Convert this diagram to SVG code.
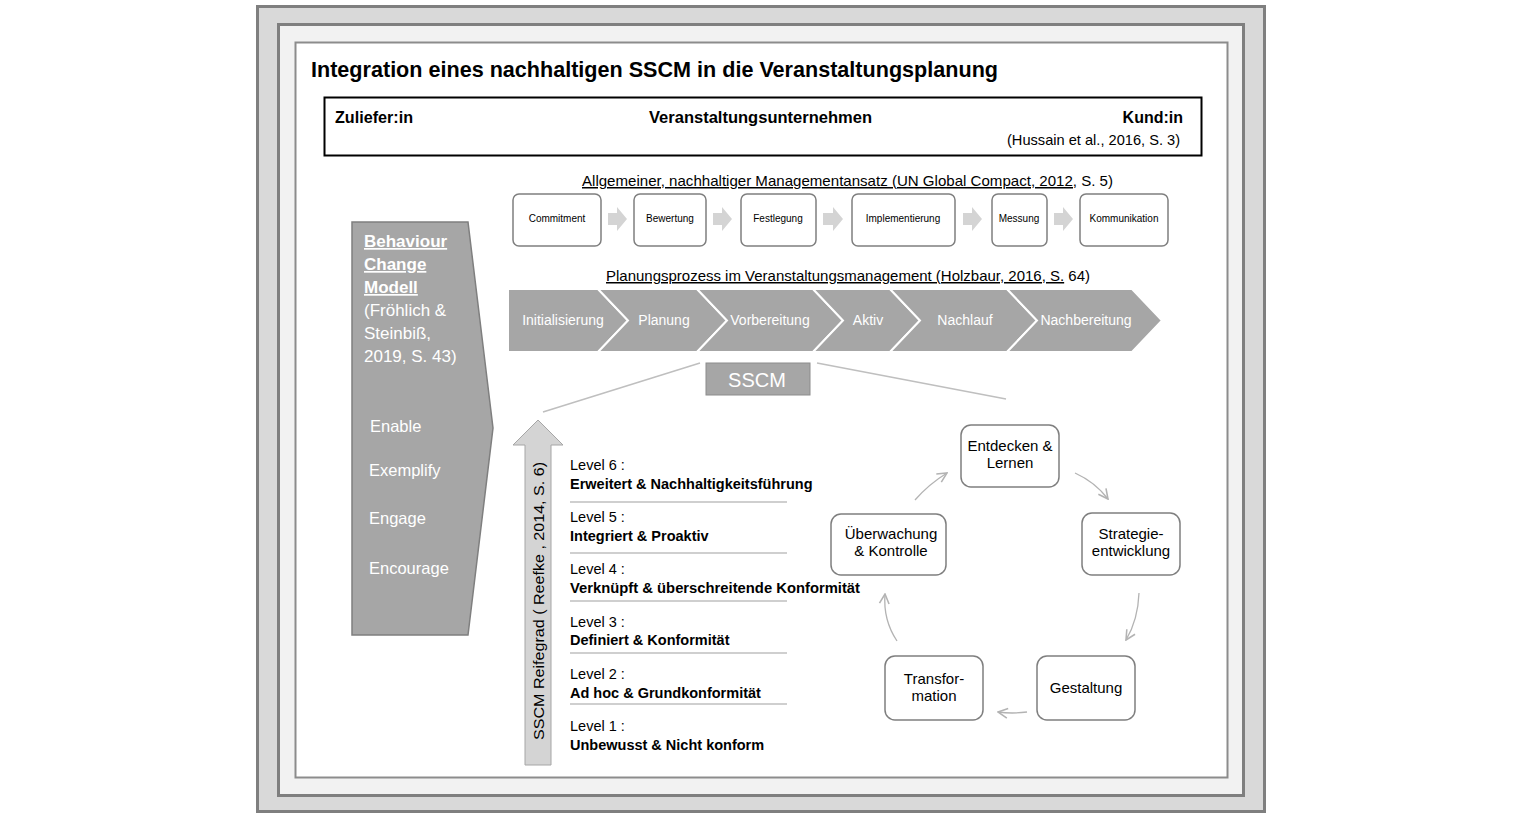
<svg xmlns="http://www.w3.org/2000/svg" width="1518" height="820" viewBox="0 0 1518 820">
<style>
text{font-family:"Liberation Sans",Arial,sans-serif;fill:#000}
.b{font-weight:bold}
.w{fill:#fff}
.box{fill:#fff;stroke:#7f7f7f;stroke-width:1.5}
.bx{font-size:10px;text-anchor:middle}
.chev{fill:#a6a6a6;stroke:#fff;stroke-width:2}
.ct{font-size:14px;fill:#fff;text-anchor:middle}
.barr{fill:#d4d4d4}
.lvl{font-size:14.5px}
.sep{stroke:#bfbfbf;stroke-width:1.5}
.cyc{fill:#fff;stroke:#7f7f7f;stroke-width:1.5}
.cyt{font-size:15px;text-anchor:middle}
.carr{fill:none;stroke:#b3b3b3;stroke-width:1.3;marker-end:url(#op)}
.u{text-decoration:underline}
</style>
<defs>
<marker id="op" viewBox="0 0 10 10" refX="9" refY="5" markerWidth="12" markerHeight="12" markerUnits="userSpaceOnUse" orient="auto">
<path d="M1,1 L9,5 L1,9" fill="none" stroke="#b3b3b3" stroke-width="1.3"/>
</marker>
</defs>

<g id="frame">
<rect x="257.5" y="6.5" width="1007" height="805" fill="#d9d9d9" stroke="#7f7f7f" stroke-width="3"/>
<rect x="278.5" y="24.5" width="965" height="771" fill="#f2f2f2" stroke="#7f7f7f" stroke-width="3"/>
<rect x="295.5" y="42.5" width="932" height="735" fill="#fff" stroke="#8c8c8c" stroke-width="2"/>
</g>

<text id="title" x="311" y="77" class="b" font-size="22" textLength="687" lengthAdjust="spacingAndGlyphs">Integration eines nachhaltigen SSCM in die Veranstaltungsplanung</text>

<g id="header">
<rect x="324.5" y="97.5" width="877" height="58" fill="#fff" stroke="#000" stroke-width="2"/>
<text x="335" y="123" class="b" font-size="16" textLength="78" lengthAdjust="spacingAndGlyphs">Zuliefer:in</text>
<text x="649" y="123" class="b" font-size="16" textLength="223" lengthAdjust="spacingAndGlyphs">Veranstaltungsunternehmen</text>
<text x="1183" y="123" class="b" font-size="16" text-anchor="end">Kund:in</text>
<text x="1007" y="145" font-size="14.5" textLength="173" lengthAdjust="spacingAndGlyphs">(Hussain et al., 2016, S. 3)</text>
</g>

<text id="mgmt-title" x="582" y="186" font-size="15" textLength="531" lengthAdjust="spacingAndGlyphs"><tspan class="u">Allgemeiner, nachhaltiger Managementansatz (UN Global Compact, 2012,</tspan> S. 5)</text>

<g id="mgmt-arrows">
<path class="barr" d="M608,213 L617,213 L617,207 L627,219 L617,231 L617,225 L608,225 Z"/>
<path class="barr" d="M713,213 L722,213 L722,207 L732,219 L722,231 L722,225 L713,225 Z"/>
<path class="barr" d="M823,213 L833,213 L833,207 L843,219 L833,231 L833,225 L823,225 Z"/>
<path class="barr" d="M963,213 L972,213 L972,207 L982,219 L972,231 L972,225 L963,225 Z"/>
<path class="barr" d="M1054,213 L1063,213 L1063,207 L1073,219 L1063,231 L1063,225 L1054,225 Z"/>
</g>
<g id="n-commitment"><rect class="box" x="513" y="194" width="88" height="52" rx="6"/><text class="bx" x="557" y="222">Commitment</text></g>
<g id="n-bewertung"><rect class="box" x="634" y="194" width="72" height="52" rx="6"/><text class="bx" x="670" y="222">Bewertung</text></g>
<g id="n-festlegung"><rect class="box" x="741" y="194" width="75" height="52" rx="6"/><text class="bx" x="778" y="222">Festlegung</text></g>
<g id="n-implementierung"><rect class="box" x="852" y="194" width="103" height="52" rx="6"/><text class="bx" x="903" y="222">Implementierung</text></g>
<g id="n-messung"><rect class="box" x="992" y="194" width="55" height="52" rx="6"/><text class="bx" x="1019" y="222">Messung</text></g>
<g id="n-kommunikation"><rect class="box" x="1080" y="194" width="88" height="52" rx="6"/><text class="bx" x="1124" y="222">Kommunikation</text></g>

<text id="plan-title" x="606" y="281" font-size="15" textLength="484" lengthAdjust="spacingAndGlyphs"><tspan class="u">Planungsprozess im Veranstaltungsmanagement (Holzbaur, 2016, S.</tspan> 64)</text>

<g id="p-init"><path class="chev" d="M508,289 L598,289 L628,320.5 L598,352 L508,352 Z"/><text class="ct" x="563" y="325">Initialisierung</text></g>
<g id="p-planung"><path class="chev" d="M598,289 L697,289 L727,320.5 L697,352 L598,352 L628,320.5 Z"/><text class="ct" x="664" y="325">Planung</text></g>
<g id="p-vorb"><path class="chev" d="M697,289 L813,289 L843,320.5 L813,352 L697,352 L727,320.5 Z"/><text class="ct" x="770" y="325">Vorbereitung</text></g>
<g id="p-aktiv"><path class="chev" d="M813,289 L890,289 L920,320.5 L890,352 L813,352 L843,320.5 Z"/><text class="ct" x="868" y="325">Aktiv</text></g>
<g id="p-nachlauf"><path class="chev" d="M890,289 L1007,289 L1037,320.5 L1007,352 L890,352 L920,320.5 Z"/><text class="ct" x="965" y="325">Nachlauf</text></g>
<g id="p-nachb"><path class="chev" d="M1007,289 L1132,289 L1162,320.5 L1132,352 L1007,352 L1037,320.5 Z"/><text class="ct" x="1086" y="325">Nachbereitung</text></g>

<g id="behaviour">
<path d="M352,222 L468,222 L493,428 L468,635 L352,635 Z" fill="#a6a6a6" stroke="#7f7f7f" stroke-width="1.5"/>
<text class="w b" font-size="17"><tspan class="u w" x="364" y="247">Behaviour</tspan><tspan class="u w" x="364" y="270">Change</tspan><tspan class="u w" x="364" y="293">Modell</tspan></text>
<text class="w" font-size="17"><tspan x="364" y="316">(Fröhlich &amp;</tspan><tspan x="364" y="339">Steinbiß,</tspan><tspan x="364" y="362">2019, S. 43)</tspan></text>
<text class="w" font-size="16.5" x="370" y="432">Enable</text>
<text class="w" font-size="16.5" x="369" y="476">Exemplify</text>
<text class="w" font-size="16.5" x="369" y="524">Engage</text>
<text class="w" font-size="16.5" x="369" y="574">Encourage</text>
</g>

<g id="sscm">
<line x1="543" y1="412" x2="700" y2="363" stroke="#bfbfbf" stroke-width="1.5"/>
<line x1="817" y1="363" x2="1006" y2="399" stroke="#bfbfbf" stroke-width="1.5"/>
<rect x="706" y="363" width="104" height="32" fill="#a6a6a6" stroke="#8c8c8c" stroke-width="1"/>
<text x="757" y="387" font-size="20" class="w" text-anchor="middle">SSCM</text>
</g>

<g id="maturity">
<path d="M525,765 L525,445 L513,445 L538,420 L563,445 L551,445 L551,765 Z" fill="#d4d4d4" stroke="#a6a6a6" stroke-width="1"/>
<text transform="translate(544,601) rotate(-90)" font-size="15.5" text-anchor="middle" textLength="278" lengthAdjust="spacingAndGlyphs">SSCM Reifegrad ( Reefke , 2014, S. 6)</text>
<text class="lvl" x="570" y="470">Level 6 :</text>
<text class="lvl b" x="570" y="489">Erweitert &amp; Nachhaltigkeitsführung</text>
<line class="sep" x1="570" y1="502" x2="787" y2="502"/>
<text class="lvl" x="570" y="522">Level 5 :</text>
<text class="lvl b" x="570" y="541">Integriert &amp; Proaktiv</text>
<line class="sep" x1="570" y1="553" x2="787" y2="553"/>
<text class="lvl" x="570" y="574">Level 4 :</text>
<text class="lvl b" x="570" y="593" textLength="290" lengthAdjust="spacingAndGlyphs">Verknüpft &amp; überschreitende Konformität</text>
<line class="sep" x1="570" y1="601" x2="787" y2="601"/>
<text class="lvl" x="570" y="627">Level 3 :</text>
<text class="lvl b" x="570" y="645">Definiert &amp; Konformität</text>
<line class="sep" x1="570" y1="653" x2="787" y2="653"/>
<text class="lvl" x="570" y="679">Level 2 :</text>
<text class="lvl b" x="570" y="698">Ad hoc &amp; Grundkonformität</text>
<line class="sep" x1="570" y1="704" x2="787" y2="704"/>
<text class="lvl" x="570" y="731">Level 1 :</text>
<text class="lvl b" x="570" y="750">Unbewusst &amp; Nicht konform</text>
</g>

<g id="c-entdecken"><rect class="cyc" x="961" y="425" width="98" height="62" rx="10"/><text class="cyt"><tspan x="1010" y="451">Entdecken &amp;</tspan><tspan x="1010" y="468">Lernen</tspan></text></g>
<g id="c-strategie"><rect class="cyc" x="1082" y="513" width="98" height="62" rx="10"/><text class="cyt"><tspan x="1131" y="539">Strategie-</tspan><tspan x="1131" y="556">entwicklung</tspan></text></g>
<g id="c-gestaltung"><rect class="cyc" x="1037" y="656" width="98" height="64" rx="10"/><text class="cyt" x="1086" y="693">Gestaltung</text></g>
<g id="c-transformation"><rect class="cyc" x="885" y="656" width="98" height="64" rx="10"/><text class="cyt"><tspan x="934" y="684">Transfor-</tspan><tspan x="934" y="701">mation</tspan></text></g>
<g id="c-ueberwachung"><rect class="cyc" x="831" y="514" width="115" height="61" rx="10"/><text class="cyt"><tspan x="891" y="539">Überwachung</tspan><tspan x="891" y="556">&amp; Kontrolle</tspan></text></g>

<g id="connectors">
<path class="carr" d="M915,500 Q929,484 947,473"/>
<path class="carr" d="M1075,473 Q1095,482 1108,499"/>
<path class="carr" d="M1139,593 Q1138,620 1126,640"/>
<path class="carr" d="M1027,712 Q1012,714 998,712"/>
<path class="carr" d="M897,641 Q883,620 885,594"/>
</g>
</svg>
